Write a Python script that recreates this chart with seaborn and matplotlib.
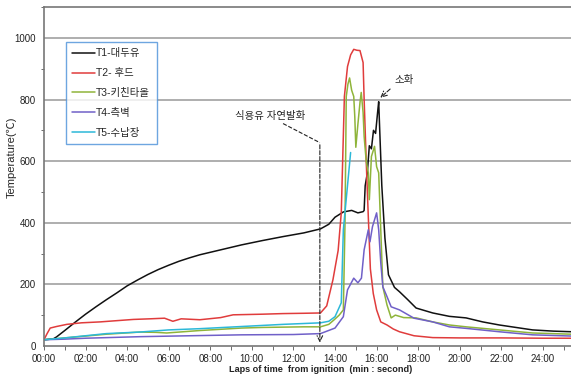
import numpy as np
import pandas as pd
import matplotlib
matplotlib.use("Agg")
import matplotlib.pyplot as plt
import seaborn as sns
from matplotlib.ticker import MultipleLocator

# data (time in minutes, temperature in C)
t1 = [0, 0.45, 0.6, 1.0, 1.5, 2.0, 2.5, 3.0, 3.5, 4.0, 4.5, 5.0, 5.5, 6.0, 6.5, 7.0, 7.5, 8.5, 9.5, 10.5,
      11.5, 12.5, 13.3, 13.7, 14.0, 14.4, 14.8, 15.1, 15.35, 15.4, 15.45, 15.55, 15.65, 15.75, 15.85,
      15.95, 16.05, 16.1, 16.15, 16.25, 16.4, 16.57, 16.86, 17.1, 17.5, 17.9, 18.7, 19.5, 20.3, 21.1,
      21.9, 22.7, 23.5, 24.5, 25.4]
T1 = [20, 23, 29, 50, 77, 103, 127, 150, 172, 195, 214, 232, 248, 262, 275, 286, 296, 312, 328, 342,
      355, 367, 380, 395, 418, 435, 440, 432, 436, 440, 520, 560, 650, 640, 700,
      690, 760, 793, 700, 520, 350, 231, 190, 176, 150, 123, 107, 96, 91, 78,
      68, 60, 52, 48, 46]

t2 = [0, 0.15, 0.3, 0.6, 1.1, 1.8, 2.7, 3.5, 4.3, 5.1, 5.8, 6.2, 6.6, 7.5, 8.5, 9.1, 10.5, 11.5, 12.5, 13.3,
      13.6, 13.9, 14.15, 14.3, 14.45, 14.6, 14.75, 14.9, 15.05, 15.2, 15.35, 15.4, 15.5, 15.6, 15.7,
      15.84, 16.0, 16.2, 16.5, 16.8, 17.1, 17.8, 18.7, 20.0, 22.0, 24.0, 25.4]
T2 = [20, 40, 58, 63, 70, 75, 78, 82, 86, 88, 90, 80, 88, 85, 92, 101, 103, 105, 106, 107,
      130, 215, 310, 432, 810, 907, 945, 963, 960, 959, 920, 800, 600, 420, 250,
      170, 117, 78, 68, 55, 46, 33, 27, 26, 26, 25, 25]

t3 = [0, 1, 2, 3, 4.6, 5.4, 5.9, 6.5, 7.5, 8.5, 9.5, 10.5, 11.5, 12.5, 13.3, 13.7, 13.96, 14.2, 14.4,
      14.48, 14.54, 14.62, 14.7, 14.8, 14.9, 14.95, 15.0, 15.1, 15.2, 15.26, 15.35, 15.4, 15.5, 15.6,
      15.65, 15.75, 15.9, 16.0, 16.1, 16.2, 16.3, 16.5, 16.7, 16.9, 17.3, 17.9, 18.7, 19.5, 20.3, 21.9,
      23.5, 25.4]
T3 = [20, 26, 32, 38, 45, 44, 42, 45, 50, 54, 58, 60, 61, 62, 62, 70, 85, 100, 117,
      400, 810, 850, 870, 830, 810, 745, 645, 720, 790, 823, 758, 680, 600, 562,
      475, 615, 648, 582, 562, 377, 192, 133, 91, 100, 92, 91, 78, 68, 62, 52,
      42, 38]

t4 = [0, 1, 2, 4.6, 7, 9.5, 12, 13.3, 14.0, 14.4, 14.6, 14.9, 15.1, 15.27, 15.4, 15.6, 15.68,
      15.8, 16.0, 16.1, 16.2, 16.3, 16.5, 16.7, 17.1, 17.8, 18.7, 19.5, 20.3, 21.9, 23.5, 25.4]
T4 = [20, 22, 25, 30, 33, 36, 37, 40, 58, 95, 182, 220, 205, 220, 312, 377, 338,
      387, 432, 377, 270, 192, 160, 127, 117, 90, 78, 62, 57, 46, 36, 32]

t5 = [0, 1, 2, 3, 4.6, 6, 7.5, 9.5, 11.5, 13.3, 13.7, 14.0, 14.3, 14.4, 14.55, 14.75]
T5 = [20, 26, 33, 40, 45, 52, 56, 63, 70, 75, 80, 95, 140, 377, 485, 628]

labels = ["T1-대두유", "T2- 후드", "T3-키친타올", "T4-측벽", "T5-수납장"]
colors = ["#111111", "#e03c3c", "#8fb43a", "#7060c8", "#2cb8d8"]
x_ticks = [f"{m:02d}:00" for m in range(0, 25, 2)]

sns.set_style("white")
plt.rcParams["font.family"] = ["Liberation Sans", "Noto Sans CJK KR"]

fig = plt.figure(figsize=(5.71, 3.76), dpi=100)
ax = fig.add_axes([0.077, 0.08, 0.923, 0.901])

series = [(t1, T1), (t2, T2), (t3, T3), (t4, T4), (t5, T5)]
for (tx, ty), lab, col in zip(series, labels, colors):
    df = pd.DataFrame({"t": tx, "T": ty})
    sns.lineplot(data=df, x="t", y="T", color=col, lw=1.1, label=lab, ax=ax)

ax.set_xlim(0, 25.35)
ax.set_ylim(0, 1100)
ax.set_yticks(range(0, 1001, 200))
ax.yaxis.set_minor_locator(MultipleLocator(100))
ax.set_xticks(range(0, 25, 2))
ax.set_xticklabels(x_ticks)
ax.xaxis.set_minor_locator(MultipleLocator(1))
ax.tick_params(axis="both", which="both", labelsize=7, colors="#555555", labelcolor="#222222")
ax.tick_params(axis="x", which="both", direction="out", length=3, width=0.6, bottom=True, pad=2.5)
ax.tick_params(axis="y", which="major", length=0, pad=6)
ax.tick_params(axis="y", which="minor", direction="out", length=2, width=0.6, left=True)
for yv in range(200, 1001, 200):
    ax.axhline(yv, color="#999999", lw=1.1, zorder=0)
ax.spines["right"].set_visible(False)
for s in ["left", "bottom", "top"]:
    ax.spines[s].set_color("#777777")
    ax.spines[s].set_linewidth(1.2)
ax.set_xlabel("")
ax.set_ylabel("")

leg = ax.legend(loc="upper left", bbox_to_anchor=(0.042, 0.897), fontsize=7.5, frameon=True,
                fancybox=False, handlelength=2.2, handletextpad=0.1, labelspacing=0.95,
                borderpad=0.6, borderaxespad=0)
leg.get_frame().set_edgecolor("#4a90d9")
leg.get_frame().set_linewidth(1.0)

# annotations
ax.plot([11.5, 13.27], [722, 660], ls="--", color="#222222", lw=0.8)
ax.annotate("", xy=(13.27, 2), xytext=(13.27, 662),
            arrowprops=dict(arrowstyle="->", ls="--", color="#222222", lw=0.8))
ax.text(10.9, 748, "식용유 자연발화", fontsize=7.5, ha="center", va="center")
ax.annotate("", xy=(16.08, 800), xytext=(16.75, 840),
            arrowprops=dict(arrowstyle="->", ls="--", color="#222222", lw=0.8))
ax.text(16.85, 862, "소화", fontsize=7.5, ha="left", va="center")

fig.text(0.021, 0.582, "Temperature(℃)", rotation=90, fontsize=8, ha="center", va="center")
fig.text(0.562, 0.018, "Laps of time  from ignition  (min : second)", fontsize=6.6,
         ha="center", va="center", fontweight="bold", color="#222222")

fig.savefig("out.png", dpi=100)
